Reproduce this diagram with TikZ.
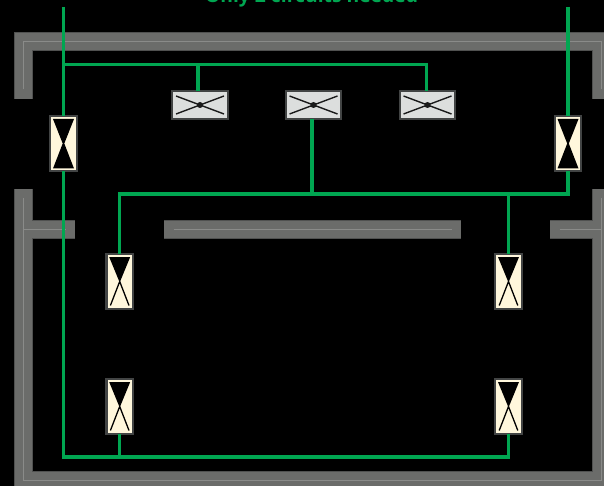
\documentclass[tikz,border=0pt]{standalone}
\usepackage{fontspec}
\setmainfont{Open Sans}
\tikzset{
	walledge/.style={draw=wallrim, line width=19pt, line join=miter},
	wallfill/.style={draw=wallgrey, line width=17.5pt, line join=miter},
	wallmid/.style={draw=wallline, line width=.9pt},
	circuit/.style={draw=wirecol, line width=3.2pt},
	lamp/.style={draw=boxrim, line width=2.4pt, fill=lampcol, minimum width=26.5pt, minimum height=55pt, inner sep=0pt, outer sep=0pt},
	lampfull/.style={lamp, path picture={
		\begin{scope}[shift={(path picture bounding box.center)}]
			\fill[black] (-10.5,-24.5) -- (10.5,-24.5) -- (.8,0) -- (10.5,25) -- (-10.5,25) -- (-.8,0) -- cycle;
		\end{scope}}},
	lampcross/.style={lamp, path picture={
		\begin{scope}[shift={(path picture bounding box.center)}]
			\fill[black] (-10.5,-24.5) -- (10.5,-24.5) -- (0,1) -- cycle;
			\draw[black, line width=1.3pt] (9.3,24) -- (0,0) -- (-9.3,24);
		\end{scope}}},
	ceiling/.style={draw=boxrim, line width=2.4pt, fill=panelcol, minimum width=55.5pt, minimum height=27.5pt, inner sep=0pt, outer sep=0pt, path picture={
		\begin{scope}[shift={(path picture bounding box.center)}]
			\draw[panelline, line width=1.4pt] (-24,-9) -- (24,9) (-24,9) -- (24,-9);
			\fill[panelline] (0,0) circle (3);
		\end{scope}}},
}
\definecolor{wallgrey}{HTML}{6B6C6A}
\definecolor{wallrim}{HTML}{505150}
\definecolor{wallline}{HTML}{8A8B89}
\definecolor{wirecol}{HTML}{00A651}
\definecolor{boxrim}{HTML}{424444}
\definecolor{lampcol}{HTML}{FFF7DC}
\definecolor{panelcol}{HTML}{DCDEDD}
\definecolor{panelline}{HTML}{1A1A1A}

\begin{document}
\begin{tikzpicture}[x=1pt, y=-1pt]

	\useasboundingbox (0,0) rectangle (604,486);
	\fill[black] (0,0) rectangle (604,486);

	% walls
	\foreach \wallstyle in {walledge, wallfill} {
		\path[\wallstyle] (23.5,99) -- (23.5,41.5) -- (601.5,41.5) -- (601.5,99);
		\path[\wallstyle] (23.5,189) -- (23.5,480.5) -- (601.5,480.5) -- (601.5,189);
		\path[\wallstyle] (75,229.5) -- (23.5,229.5);
		\path[\wallstyle] (164,229.5) -- (461,229.5);
		\path[\wallstyle] (550,229.5) -- (601.5,229.5);
	}
	\path[wallmid, shorten <=9.5pt, shorten >=9.5pt] (23.5,99) -- (23.5,41.5) -- (601.5,41.5) -- (601.5,99);
	\path[wallmid, shorten <=9.5pt, shorten >=9.5pt] (23.5,189) -- (23.5,480.5) -- (601.5,480.5) -- (601.5,189);
	\path[wallmid, shorten <=9.5pt] (75,229.5) -- (23.5,229.5);
	\path[wallmid, shorten <=9.5pt, shorten >=9.5pt] (164,229.5) -- (461,229.5);
	\path[wallmid, shorten <=9.5pt] (550,229.5) -- (601.5,229.5);

	\node[anchor=base, text=wirecol, font=\bfseries\fontsize{19.3}{23}\selectfont] (title) at (311.5,3) {Only 2 circuits needed};

	% fittings
	\node[ceiling] (panelA) at (200,105) {};
	\node[ceiling] (panelB) at (313.5,105) {};
	\node[ceiling] (panelC) at (427.5,105) {};
	\node[lampfull] (lampNW) at (63.5,143.5) {};
	\node[lampfull] (lampNE) at (568,143.5) {};
	\node[lampcross] (lampMW) at (119.7,281.5) {};
	\node[lampcross] (lampME) at (508.5,281.5) {};
	\node[lampcross] (lampSW) at (119.7,406.5) {};
	\node[lampcross] (lampSE) at (508.5,406.5) {};

	\coordinate (feedW) at (63.5,7);
	\coordinate (feedE) at (568,7);
	\coordinate (tapW) at (63.5,64.5);
	\coordinate (tapE) at (426.5,64.5);
	\coordinate (tapA) at (198,64.5);
	\coordinate (cornerS) at (63.5,457);
	\coordinate (teeS) at (119.7,457);
	\coordinate (busW) at (119.7,194);
	\coordinate (busB) at (312,194);
	\coordinate (busE) at (508.5,194);

	% circuits
	\path[circuit] (feedW) -- (lampNW.north);
	\path[circuit] (tapW) -- (tapE) -- ([xshift=-1pt]panelC.north);
	\path[circuit] (tapA) -- ([xshift=-2pt]panelA.north);
	\path[circuit] (lampNW.south) -- (cornerS) -| (lampSE.south);
	\path[circuit] (teeS) -- (lampSW.south);

	\path[circuit] (feedE) -- (lampNE.north);
	\path[circuit] (lampNE.south) |- (busW) -- (lampMW.north);
	\path[circuit] ([xshift=-1.5pt]panelB.south) -- (busB);
	\path[circuit] (busE) -- (lampME.north);

\end{tikzpicture}
\end{document}
